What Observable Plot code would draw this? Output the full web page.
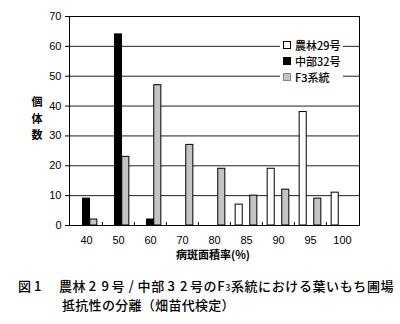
<!DOCTYPE html>
<html>
<head>
<meta charset="utf-8">
<script src="https://cdn.jsdelivr.net/npm/d3@7"></script>
<script src="https://cdn.jsdelivr.net/npm/@observablehq/plot@0.6"></script>
<style>
  html, body { margin: 0; padding: 0; background: #fff; }
  #wrap { position: relative; width: 400px; height: 324px; overflow: hidden; background: #fff; }
  .jp { font-family: "Noto Sans CJK JP", sans-serif; color: #000; position: absolute; }
  #ylab { left: 30px; top: 93px; width: 14px; font-size: 11px; font-weight: bold; line-height: 16.5px; text-align: center; }
  #xlab { left: 150px; width: 126px; top: 246px; font-size: 11px; font-weight: bold; text-align: center; line-height: 16px; }
  #legend { left: 280px; top: 36px; width: 63px; height: 49px; background: #fff; font-size: 11px; font-weight: 500; }
  #legend .row { position: absolute; left: 3px; height: 16px; line-height: 16px; white-space: nowrap; }
  #legend .sw { display: inline-block; width: 6px; height: 6px; border: 1px solid #000; margin-right: 4px; vertical-align: 1px; }
  .cap { font-size: 13px; font-weight: 500; line-height: 20px; white-space: nowrap; letter-spacing: 0.3px; }
  .cap1 { letter-spacing: 0.6px; }
  .d { display: inline-block; width: 12.6px; text-align: center; letter-spacing: 0; }
</style>
</head>
<body>
<div id="wrap">
  <div id="plot"></div>
  <div id="ylab" class="jp">個<br>体<br>数</div>
  <div id="xlab" class="jp">病斑面積率(%)</div>
  <div id="legend" class="jp"></div>
  <div class="jp cap" style="left:18px; top:276px;">図<span class="d">1</span></div>
  <div class="jp cap cap1" style="left:59px; top:276px;">農林<span class="d">2</span><span class="d">9</span>号<span class="d">/</span>中部<span class="d">3</span><span class="d">2</span>号のF<span style="font-size:9px">3</span>系統における葉いもち圃場</div>
  <div class="jp cap" style="left:62px; top:295px;">抵抗性の分離（畑苗代検定）</div>
</div>
<script>
const categories = ["40", "50", "60", "70", "80", "85", "90", "95", "100"];
const seriesNames = ["農林29号", "中部32号", "F3系統"];
const norin29 = [0, 0, 0, 0, 0, 7, 19, 38, 11];
const chubu32 = [9, 64, 2, 0, 0, 0, 0, 0, 0];
const f3 = [2, 23, 47, 27, 19, 10, 12, 9, 0];
const yTicks = [0, 10, 20, 30, 40, 50, 60, 70];

const seriesValues = [norin29, chubu32, f3];
const fills = ["#ffffff", "#000000", "#c4c4c4"];

const W = 400, H = 250, mL = 69, mR = 41, mT = 16, mB = 25;
const bw = (W - mL - mR) / categories.length;
const barW = 7.3;
const groupLeft = bw / 2 - 1.5 * barW;

function rows(k) {
  return categories.map((c, i) => ({cat: c, value: seriesValues[k][i], series: seriesNames[k]}))
    .filter(d => d.value > 0);
}

const barMarks = seriesNames.map((s, k) => Plot.barY(rows(k), {
  x: "cat", y: "value",
  fill: fills[k], stroke: "#000", strokeWidth: 1,
  insetLeft: groupLeft + k * barW,
  insetRight: bw - (groupLeft + (k + 1) * barW)
}));

const chart = Plot.plot({
  width: W, height: H,
  marginLeft: mL, marginRight: mR, marginTop: mT, marginBottom: mB,
  style: {fontFamily: "'Liberation Sans', Arial, sans-serif", fontSize: "11px", color: "#000", background: "transparent"},
  x: {domain: categories, padding: 0, tickSize: 0, tickPadding: 11, label: null},
  y: {domain: [0, 70], ticks: yTicks, tickSize: 4, tickPadding: 4, label: null},
  marks: [
    Plot.ruleY(yTicks.slice(1), {stroke: "#222", strokeWidth: 1}),
    Plot.ruleX(categories.slice(1), {x: d => d, y1: 0, y2: 1, dx: -bw / 2, stroke: "#000"}),
    ...barMarks,
    Plot.frame({stroke: "#000"})
  ]
});
document.getElementById("plot").appendChild(chart);

const legend = document.getElementById("legend");
seriesNames.forEach((s, k) => {
  const row = document.createElement("div");
  row.className = "row";
  row.style.top = (1 + k * 16) + "px";
  const sw = document.createElement("span");
  sw.className = "sw";
  sw.style.background = fills[k];
  if (k === 2) sw.style.borderColor = "#888";
  row.appendChild(sw);
  row.appendChild(document.createTextNode(s));
  legend.appendChild(row);
});
</script>
</body>
</html>
